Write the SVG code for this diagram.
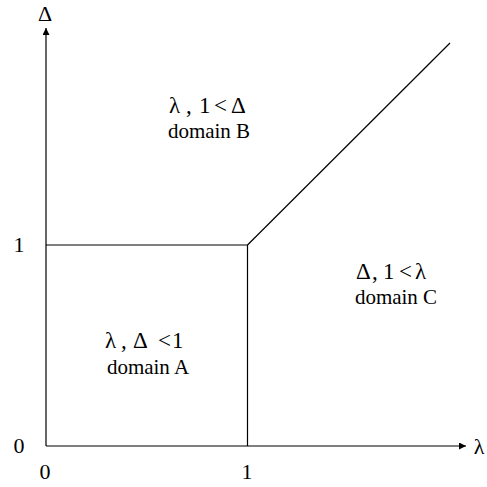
<svg xmlns="http://www.w3.org/2000/svg" width="487" height="487" viewBox="0 0 487 487">
<style>
.ln{stroke:#000;stroke-width:1.2;fill:none}
text{font-family:'Liberation Serif','Times New Roman','DejaVu Serif',serif;fill:#000}
.big{font-size:23px}
.ax{font-size:22px}
.sm{font-size:21px}
</style>
<defs>
<marker id="ah" viewBox="0 0 10 10" refX="10" refY="5" markerWidth="8" markerHeight="7" markerUnits="userSpaceOnUse" orient="auto">
<path d="M0,0 L10,5 L0,10 z" fill="#000"/>
</marker>
</defs>
<rect width="487" height="487" fill="#fff"/>
<g id="connectors">
<line class="ln" x1="46" y1="446" x2="46" y2="28" marker-end="url(#ah)"/>
<line class="ln" x1="46" y1="446" x2="466" y2="446" marker-end="url(#ah)"/>
<polyline class="ln" points="46,245 247.5,245 247.5,446"/>
<line class="ln" x1="247.5" y1="245" x2="450" y2="43"/>
</g>
<g id="axis-labels">
<text class="ax" x="45" y="21" text-anchor="middle">Δ</text>
<text class="ax" x="479" y="454" text-anchor="middle">λ</text>
<text class="ax" x="19" y="453" text-anchor="middle">0</text>
<text class="ax" x="45" y="479" text-anchor="middle">0</text>
<text class="ax" x="247" y="479" text-anchor="middle">1</text>
<text class="ax" x="19" y="252" text-anchor="middle">1</text>
</g>
<g id="domainB">
<text class="big" x="169 186 199 214 231" y="113">λ,1&lt;Δ</text>
<text class="sm" x="209" y="138" text-anchor="middle">domain B</text>
</g>
<g id="domainC">
<text class="big" x="356 372 383 399 415" y="279">Δ,1&lt;λ</text>
<text class="sm" x="396" y="304" text-anchor="middle">domain C</text>
</g>
<g id="domainA">
<text class="big" x="105 121 133 158 172" y="348">λ,Δ&lt;1</text>
<text class="sm" x="148" y="374" text-anchor="middle">domain A</text>
</g>
</svg>
